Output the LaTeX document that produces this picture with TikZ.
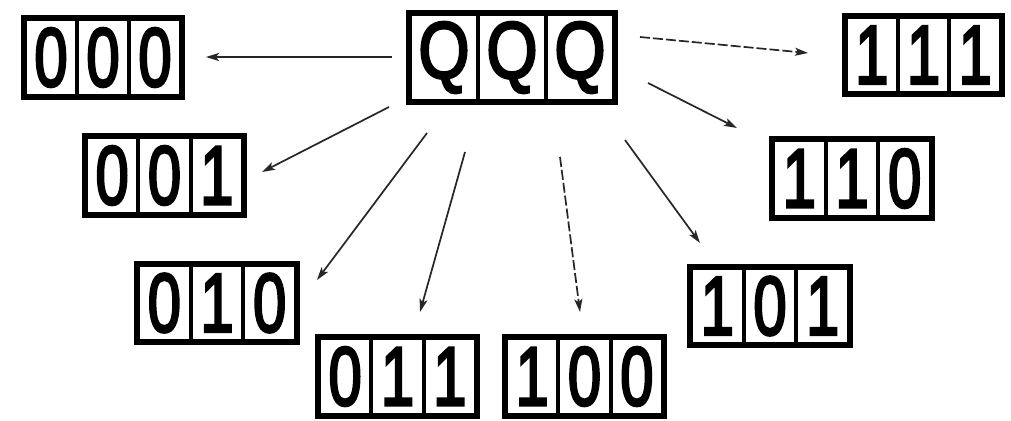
\documentclass[tikz,border=0pt]{standalone}
\usepackage{fontspec}
\setmainfont{Liberation Sans}
\newfontfamily\digfont{Liberation Sans}[FakeBold=3.5]
\usetikzlibrary{arrows.meta}
\tikzset{
  outerbox/.style={draw=black, line width=4pt, inner sep=0pt, fill=white},
  cellbox/.style={draw=black, line width=2pt, inner sep=0pt},
  arr/.style={-{Stealth[length=13pt,width=8pt,inset=3pt]}, line width=1.7pt, black!85},
  dasharr/.style={arr, dash pattern=on 10pt off 3pt},
}
\newcommand\xs{0.72}
\newcommand\bfsz{83}
\newcommand\regbox[8]{%
  \pgfmathsetmacro\cw{(#4-#2-8)/3}%
  \pgfmathsetmacro\ow{#4-#2-4}%
  \pgfmathsetmacro\oh{#5-#3-4}%
  \pgfmathsetmacro\ch{#5-#3-10}%
  \pgfmathsetmacro\cwi{\cw-2}%
  \node[outerbox, minimum width=\ow pt, minimum height=\oh pt] (#1) at ({(#2+#4)/2},{(#3+#5)/2}) {};
  \foreach \i/\c in {0/#6,1/#7,2/#8} {
    \node[cellbox, minimum width=\cwi pt, minimum height=\ch pt,
      font=\digfont\fontsize{\bfsz}{\bfsz}\selectfont]
      (#1-\i) at ({#2+4+(\i+0.5)*\cw},{(#3+#5)/2}) {\scalebox{\xs}[1]{\c}};
  }%
}
\begin{document}
\begin{tikzpicture}[x=1pt,y=-1pt]
\useasboundingbox[fill=white] (0,0) rectangle (1011,420);

\regbox{b000}{21}{15}{185}{100}{0}{0}{0}
\regbox{b001}{82}{133}{247}{218}{0}{0}{1}
\regbox{b010}{134}{261}{300}{345}{0}{1}{0}
\regbox{b011}{315}{334}{480}{419}{0}{1}{1}
\regbox{b100}{502}{334}{667}{419}{1}{0}{0}
\regbox{b101}{687}{264}{853}{348}{1}{0}{1}
\regbox{b110}{769}{136}{935}{221}{1}{1}{0}
\regbox{b111}{842}{13}{1005}{97}{1}{1}{1}
\renewcommand\xs{0.82}
\renewcommand\bfsz{80}
\regbox{bQQQ}{406}{10}{618}{105}{Q}{Q}{Q}

% arrow endpoints
\coordinate (s000) at (392,57);   \coordinate (e000) at (206,57);
\coordinate (s001) at (389,107);  \coordinate (e001) at (262,172);
\coordinate (s010) at (427,133);  \coordinate (e010) at (317,280);
\coordinate (s011) at (465,152);  \coordinate (e011) at (420,312);
\coordinate (s100) at (560,157);  \coordinate (e100) at (580,312);
\coordinate (s101) at (625,140);  \coordinate (e101) at (700,243);
\coordinate (s110) at (648,83);   \coordinate (e110) at (737,128);
\coordinate (s111) at (640,37);   \coordinate (e111) at (808,53);

\draw[arr] (s000) -- (e000);
\draw[arr] (s001) -- (e001);
\draw[arr] (s010) -- (e010);
\draw[arr] (s011) -- (e011);
\draw[dasharr] (s100) -- (e100);
\draw[arr] (s101) -- (e101);
\draw[arr] (s110) -- (e110);
\draw[dasharr] (s111) -- (e111);
\end{tikzpicture}
\end{document}
